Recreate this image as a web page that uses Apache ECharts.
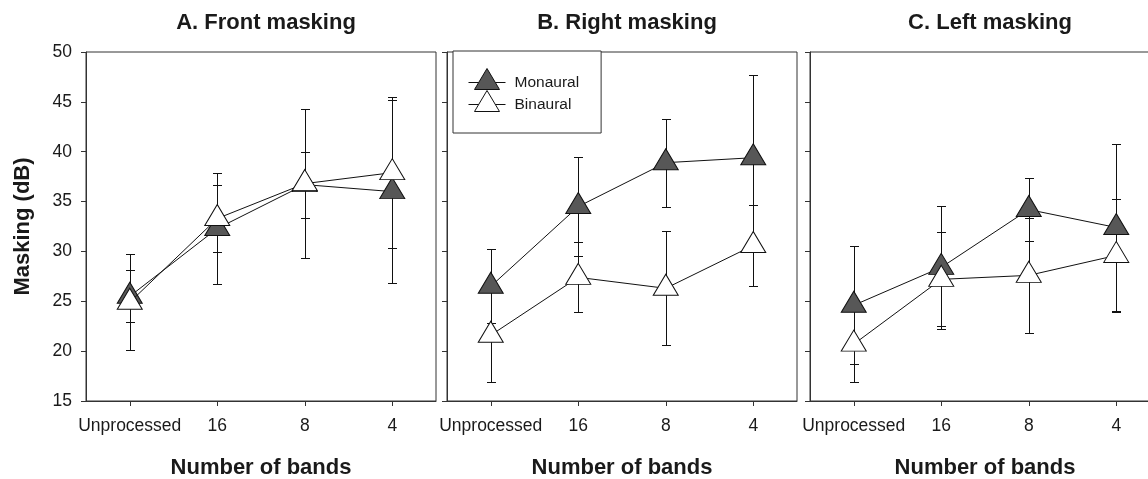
<!DOCTYPE html>
<html>
<head>
<meta charset="utf-8">
<script src="https://cdn.jsdelivr.net/npm/echarts@6/dist/echarts.min.js"></script>
<style>
html,body{margin:0;padding:0;background:#fff;}
#c{width:1148px;height:479px;}
</style>
</head>
<body>
<div id="c"></div>
<script>
// ---- data ----
const categories = ['Unprocessed', '16', '8', '4'];
const panelTitles = ['A. Front masking', 'B. Right masking', 'C. Left masking'];
const seriesNames = ['Monaural', 'Binaural'];
const yTicks = { min: 15, max: 50, interval: 5 };

const frontMon = [25.5, 32.3, 36.7, 36.0];
const frontMonErr = [2.6, 5.6, 3.3, 9.2];
const frontBin = [24.9, 33.3, 36.8, 37.9];
const frontBinErr = [4.8, 3.4, 7.5, 7.6];

const rightMon = [26.5, 34.5, 38.9, 39.4];
const rightMonErr = [3.7, 5.0, 4.4, 8.3];
const rightBin = [21.6, 27.4, 26.3, 30.6];
const rightBinErr = [4.7, 3.5, 5.7, 4.1];

const leftMon = [24.6, 28.4, 34.2, 32.4];
const leftMonErr = [5.9, 6.2, 3.2, 8.4];
const leftBin = [20.7, 27.2, 27.6, 29.6];
const leftBinErr = [3.8, 4.7, 5.8, 5.7];

// ---- styling / layout ----
const FONT = "'Liberation Sans', Arial, Helvetica, sans-serif";
const INK = '#1a1a1a';
const AXIS = '#333';
const gridLefts = [86, 447, 810];
const GRID_TOP = 52, GRID_W = 350, GRID_H = 349;
const fills = ['#575757', '#ffffff'];

const panels = [
  [[frontMon, frontMonErr], [frontBin, frontBinErr]],
  [[rightMon, rightMonErr], [rightBin, rightBinErr]],
  [[leftMon, leftMonErr], [leftBin, leftBinErr]]
];

function renderErr(params, api) {
  const x = api.value(0), lo = api.value(1), hi = api.value(2);
  const p1 = api.coord([x, lo]);
  const p2 = api.coord([x, hi]);
  const cx = Math.round(p1[0]) + 0.5;
  const y1 = Math.round(p1[1]) + 0.5, y2 = Math.round(p2[1]) + 0.5;
  const w = 4.5;
  const st = { stroke: '#111', lineWidth: 1 };
  return {
    type: 'group',
    children: [
      { type: 'line', shape: { x1: cx, y1: y1, x2: cx, y2: y2 }, style: st },
      { type: 'line', shape: { x1: cx - w, y1: y1, x2: cx + w, y2: y1 }, style: st },
      { type: 'line', shape: { x1: cx - w, y1: y2, x2: cx + w, y2: y2 }, style: st }
    ]
  };
}

const grids = [], xAxes = [], yAxes = [], series = [], titles = [];
panels.forEach((panel, p) => {
  grids.push({
    left: gridLefts[p], top: GRID_TOP, width: GRID_W, height: GRID_H,
    show: true, borderColor: AXIS, borderWidth: 1, backgroundColor: 'transparent',
    containLabel: false, outerBoundsMode: 'none'
  });
  titles.push({
    text: panelTitles[p],
    left: gridLefts[p] + GRID_W / 2, top: 7, textAlign: 'center',
    textStyle: { fontFamily: FONT, fontSize: 22, fontWeight: 'bold', color: INK }
  });
  xAxes.push({
    type: 'category', gridIndex: p, data: categories, boundaryGap: true,
    name: 'Number of bands', nameLocation: 'middle', nameGap: 56,
    nameTextStyle: { fontFamily: FONT, fontSize: 22, fontWeight: 'bold', color: INK },
    axisLine: { show: true, lineStyle: { color: AXIS, width: 1 } },
    axisTick: { show: true, alignWithLabel: true, length: 5, lineStyle: { color: AXIS } },
    axisLabel: { fontFamily: FONT, fontSize: 17.5, color: INK, margin: 16, interval: 0 },
    splitLine: { show: false }
  });
  yAxes.push({
    type: 'value', gridIndex: p, min: yTicks.min, max: yTicks.max, interval: yTicks.interval,
    name: p === 0 ? 'Masking (dB)' : '', nameLocation: 'middle', nameGap: 52, nameRotate: 90,
    nameTextStyle: { fontFamily: FONT, fontSize: 22, fontWeight: 'bold', color: INK },
    axisLine: { show: true, lineStyle: { color: AXIS, width: 1 } },
    axisTick: { show: true, length: 5, lineStyle: { color: AXIS } },
    axisLabel: { show: p === 0, fontFamily: FONT, fontSize: 17.5, color: INK, margin: 14 },
    splitLine: { show: false }
  });
  panel.forEach((pair, s) => {
    const vals = pair[0], errs = pair[1];
    series.push({
      type: 'custom', name: seriesNames[s] + ' error', xAxisIndex: p, yAxisIndex: p,
      renderItem: renderErr, z: 1, silent: true,
      encode: { x: 0, y: [1, 2] },
      data: vals.map((v, i) => [i, v - errs[i], v + errs[i]])
    });
  });
  panel.forEach((pair, s) => {
    series.push({
      type: 'line', name: seriesNames[s], xAxisIndex: p, yAxisIndex: p,
      data: pair[0], z: 3 + s,
      symbol: 'triangle', symbolSize: [25, 21], symbolOffset: [0, -3.5], showSymbol: true,
      lineStyle: { color: '#111', width: 1 },
      itemStyle: { color: fills[s], borderColor: '#111', borderWidth: 1, opacity: 1 },
      emphasis: { disabled: true }, silent: true
    });
  });
});

// icon: short line, triangle whose centroid sits on the line; trailing move pads the box so the line is centred
const legendIcon = 'path://M0,14L10.17,14M26.83,14L37,14M18.5,0L31,21L6,21ZM37,28';

const option = {
  animation: false,
  backgroundColor: '#fff',
  title: titles,
  grid: grids,
  xAxis: xAxes,
  yAxis: yAxes,
  legend: {
    data: seriesNames,
    orient: 'vertical', left: 453, top: 51,
    icon: legendIcon, itemWidth: 37, itemHeight: 28, itemGap: -7,
    padding: [17, 22, 14, 15],
    borderColor: AXIS, borderWidth: 1, backgroundColor: '#fff',
    selectedMode: false,
    itemStyle: { borderColor: '#111', borderWidth: 1 },
    textStyle: { fontFamily: FONT, fontSize: 15.5, color: INK, padding: [0, 0, 0, 4] }
  },
  series: series
};

const chart = echarts.init(document.getElementById('c'), null, { renderer: 'canvas' });
chart.setOption(option);
</script>
</body>
</html>
